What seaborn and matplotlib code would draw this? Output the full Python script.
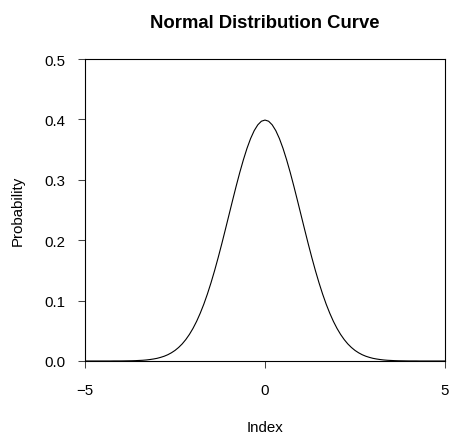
import matplotlib
matplotlib.use("Agg")
import matplotlib.pyplot as plt
import seaborn as sns
import pandas as pd

# Values (x step 0.1 from -5 to 5)
x_vals = [-5.0, -4.9, -4.8, -4.7, -4.6, -4.5, -4.4, -4.3, -4.2, -4.1,
          -4.0, -3.9, -3.8, -3.7, -3.6, -3.5, -3.4, -3.3, -3.2, -3.1,
          -3.0, -2.9, -2.8, -2.7, -2.6, -2.5, -2.4, -2.3, -2.2, -2.1,
          -2.0, -1.9, -1.8, -1.7, -1.6, -1.5, -1.4, -1.3, -1.2, -1.1,
          -1.0, -0.9, -0.8, -0.7, -0.6, -0.5, -0.4, -0.3, -0.2, -0.1,
          0.0, 0.1, 0.2, 0.3, 0.4, 0.5, 0.6, 0.7, 0.8, 0.9,
          1.0, 1.1, 1.2, 1.3, 1.4, 1.5, 1.6, 1.7, 1.8, 1.9,
          2.0, 2.1, 2.2, 2.3, 2.4, 2.5, 2.6, 2.7, 2.8, 2.9,
          3.0, 3.1, 3.2, 3.3, 3.4, 3.5, 3.6, 3.7, 3.8, 3.9,
          4.0, 4.1, 4.2, 4.3, 4.4, 4.5, 4.6, 4.7, 4.8, 4.9, 5.0]
prob_vals = [0.0000, 0.0000, 0.0000, 0.0000, 0.0000, 0.0000, 0.0000, 0.0000, 0.0001, 0.0001,
             0.0001, 0.0002, 0.0003, 0.0004, 0.0006, 0.0009, 0.0012, 0.0017, 0.0024, 0.0033,
             0.0044, 0.0060, 0.0079, 0.0104, 0.0136, 0.0175, 0.0224, 0.0283, 0.0355, 0.0440,
             0.0540, 0.0656, 0.0790, 0.0940, 0.1109, 0.1295, 0.1497, 0.1714, 0.1942, 0.2179,
             0.2420, 0.2661, 0.2897, 0.3123, 0.3332, 0.3521, 0.3683, 0.3814, 0.3910, 0.3970,
             0.3989, 0.3970, 0.3910, 0.3814, 0.3683, 0.3521, 0.3332, 0.3123, 0.2897, 0.2661,
             0.2420, 0.2179, 0.1942, 0.1714, 0.1497, 0.1295, 0.1109, 0.0940, 0.0790, 0.0656,
             0.0540, 0.0440, 0.0355, 0.0283, 0.0224, 0.0175, 0.0136, 0.0104, 0.0079, 0.0060,
             0.0044, 0.0033, 0.0024, 0.0017, 0.0012, 0.0009, 0.0006, 0.0004, 0.0003, 0.0002,
             0.0001, 0.0001, 0.0001, 0.0000, 0.0000, 0.0000, 0.0000, 0.0000, 0.0000, 0.0000, 0.0000]
x_ticks = [-5, 0, 5]
x_tick_labels = ["\u22125", "0", "5"]
y_ticks = [0.0, 0.1, 0.2, 0.3, 0.4, 0.5]
y_tick_labels = ["0.0", "0.1", "0.2", "0.3", "0.4", "0.5"]

sns.set_style("ticks")
plt.rcParams["font.family"] = ["Liberation Sans", "DejaVu Sans"]
plt.rcParams["text.color"] = "black"
plt.rcParams["axes.labelcolor"] = "black"
plt.rcParams["xtick.color"] = "black"
plt.rcParams["ytick.color"] = "black"

df = pd.DataFrame({"Index": x_vals, "Probability": prob_vals})

fig = plt.figure(figsize=(4.49, 4.39), dpi=100)
ax = fig.add_axes([85/449, 77/439, 360/449, 302/439])
sns.lineplot(data=df, x="Index", y="Probability", ax=ax, color="black", linewidth=0.8)

ax.set_xlim(-5, 5)
ax.set_ylim(0, 0.5)
ax.set_xticks(x_ticks)
ax.set_xticklabels(x_tick_labels)
ax.set_yticks(y_ticks)
ax.set_yticklabels(y_tick_labels)
ax.tick_params(axis="both", direction="out", length=5, width=0.75, color="#444444",
               labelsize=10.8, labelcolor="black")
ax.tick_params(axis="x", pad=11)
ax.tick_params(axis="y", pad=9)
for s in ax.spines.values():
    s.set_visible(True)
    s.set_linewidth(0.8)
    s.set_color("black")
ax.set_xlabel("Index", fontsize=10.8, color="black")
ax.set_ylabel("Probability", fontsize=10.8, color="black")
ax.xaxis.set_label_coords((265 - 85) / 360, (439 - 428 - 77) / 302)
ax.xaxis.label.set_va("center")
ax.yaxis.set_label_coords((18 - 85) / 360, 0.5)
ax.yaxis.label.set_va("center")
fig.text(265/449, 1 - 23/439, "Normal Distribution Curve", ha="center", va="center",
         fontsize=13.3, fontweight="bold", color="black")

fig.savefig("out.png", dpi=100)
